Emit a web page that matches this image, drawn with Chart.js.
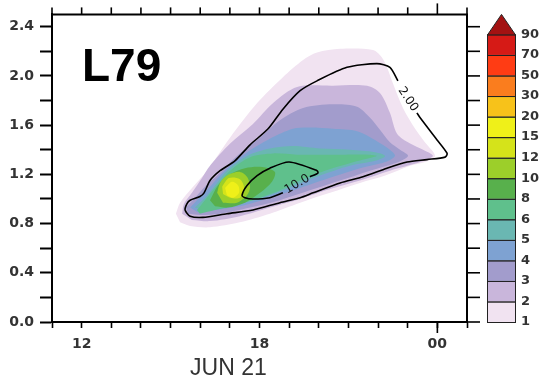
<!DOCTYPE html>
<html><head><meta charset="utf-8">
<script src="https://cdn.jsdelivr.net/npm/chart.js"></script>
<style>html,body{margin:0;padding:0;background:#fff;}canvas{display:block;}</style>
</head><body>
<canvas id="c" width="552" height="382"></canvas>
<script>
// x = hour (JUN 21; 24 = 00 of next day), y = height
const xTickLabels = {12: '12', 18: '18', 24: '00'};
const colorLevels = ['1','2','3','4','5','6','8','10','12','15','20','30','50','70','90'];
const levelColors = ['#f1e3f1','#c9b6db','#a29ccc','#7ea2d2','#6ab7b2','#5fc08c','#58b04c','#9ccf2a','#d5e31a','#eff019','#f7c21a','#fa7d1e','#ff3c14','#d61a16'];
const overColor = '#a31212';

// filled regions: value >= level (1, 2, 3, 4, 5, 6, 8, 10, 12, 15)
const region1 = [[15.18,0.88],[15.32,0.97],[15.76,1.10],[16.23,1.23],[17.01,1.50],[17.92,1.78],[18.79,1.99],[19.47,2.13],[19.94,2.19],[20.72,2.22],[21.83,2.21],[22.13,2.15],[22.30,2.07],[22.50,1.94],[22.84,1.74],[23.25,1.57],[23.58,1.46],[23.92,1.35],[23.58,1.30],[23.08,1.27],[22.24,1.19],[21.39,1.13],[20.38,1.05],[19.37,0.97],[18.35,0.88],[17.34,0.81],[16.33,0.77],[15.66,0.78],[15.32,0.81]];
const region2 = [[15.39,0.88],[15.45,0.96],[15.72,1.05],[16.06,1.17],[16.33,1.27],[17.01,1.45],[17.78,1.61],[18.46,1.78],[19.27,1.91],[20.48,1.92],[21.63,1.92],[22.07,1.86],[22.40,1.70],[22.64,1.53],[23.08,1.45],[23.52,1.40],[23.85,1.35],[23.42,1.30],[22.40,1.23],[21.39,1.15],[20.38,1.08],[19.37,1.00],[18.35,0.93],[17.34,0.86],[16.33,0.82],[15.72,0.83]];
const region3 = [[15.52,0.93],[15.82,1.01],[16.16,1.10],[16.57,1.19],[17.24,1.35],[18.02,1.50],[18.69,1.64],[19.47,1.74],[20.48,1.77],[21.29,1.75],[21.73,1.66],[22.07,1.56],[22.40,1.46],[22.74,1.40],[23.01,1.35],[22.57,1.29],[21.73,1.23],[20.72,1.15],[19.70,1.07],[18.69,0.99],[17.68,0.93],[16.67,0.88],[15.99,0.87],[15.59,0.88]];
const region4 = [[15.66,0.93],[15.89,0.99],[16.33,1.10],[16.77,1.22],[17.58,1.38],[18.35,1.49],[19.13,1.57],[19.70,1.58],[20.48,1.57],[21.29,1.55],[21.96,1.47],[22.40,1.40],[22.57,1.35],[22.24,1.30],[21.39,1.25],[20.48,1.18],[19.37,1.09],[18.35,1.01],[17.34,0.94],[16.50,0.91],[15.93,0.89]];
const region5 = [[15.82,0.93],[16.16,1.01],[16.50,1.11],[16.90,1.23],[17.58,1.35],[18.35,1.41],[19.13,1.43],[20.04,1.41],[21.05,1.40],[21.90,1.38],[22.24,1.35],[21.90,1.31],[21.05,1.27],[20.04,1.19],[19.20,1.11],[18.35,1.03],[17.51,0.97],[16.67,0.93],[16.09,0.91]];
const region6 = [[15.89,0.91],[16.16,0.99],[16.43,1.07],[17.01,1.23],[17.68,1.34],[18.46,1.37],[19.27,1.36],[20.04,1.36],[20.89,1.36],[21.70,1.36],[21.95,1.35],[21.50,1.32],[21.05,1.29],[20.21,1.23],[19.37,1.15],[18.69,1.07],[18.02,1.01],[17.34,0.96],[16.50,0.91],[15.99,0.88]];
const region7 = [[16.33,0.99],[16.60,1.11],[17.01,1.20],[17.51,1.25],[18.09,1.26],[18.52,1.22],[18.42,1.14],[18.02,1.05],[17.51,0.97],[16.94,0.93],[16.50,0.94]];
const region8 = [[16.57,1.05],[16.67,1.13],[16.90,1.19],[17.34,1.22],[17.58,1.18],[17.68,1.10],[17.58,1.03],[17.24,0.97],[16.77,0.97]];
const region9 = [[16.74,1.10],[16.97,1.17],[17.34,1.16],[17.48,1.09],[17.34,1.01],[17.01,1.01],[16.77,1.04]];
const region10 = [[16.84,1.09],[17.07,1.14],[17.28,1.11],[17.31,1.05],[17.11,1.01],[16.90,1.03]];
const regions = [region1, region2, region3, region4, region5, region6, region7, region8, region9, region10];

// contour lines (open at the label gap)
const contour2 = [[23.31,1.70],[23.42,1.66],[23.99,1.48],[24.33,1.37],[24.26,1.34],[23.65,1.32],[22.98,1.30],[22.30,1.25],[21.49,1.18],[20.72,1.13],[19.81,1.05],[19.37,1.01],[18.69,0.97],[17.78,0.91],[16.90,0.88],[16.09,0.85],[15.66,0.86],[15.49,0.91],[15.55,0.96],[15.66,0.99],[15.99,1.02],[16.13,1.05],[16.33,1.15],[16.67,1.23],[17.17,1.31],[17.68,1.44],[18.29,1.57],[18.79,1.73],[19.37,1.88],[19.94,1.96],[20.95,2.07],[21.96,2.10],[22.40,2.07],[22.67,1.96]];
const contour10 = [[19.70,1.18],[19.97,1.21],[19.94,1.23],[19.00,1.30],[18.35,1.25],[17.92,1.19],[17.58,1.11],[17.41,1.03],[17.51,1.01],[17.78,1.00],[18.35,1.01],[18.79,1.05]];
const contourLabels = [{text: '2.00', x: 23.01, y: 1.81, angle: 56}, {text: '10.0', x: 19.27, y: 1.12, angle: -31}];

const toPts = arr => arr.map(p => ({x: p[0], y: p[1]}));

const datasets = regions.map((r, i) => ({
  data: toPts(r),
  showLine: true,
  fill: 'shape',
  backgroundColor: levelColors[i],
  borderWidth: 0,
  borderColor: 'rgba(0,0,0,0)',
  pointRadius: 0,
  tension: 0.3,
  order: 100 - i
}));
[contour2, contour10].forEach(c => datasets.push({
  data: toPts(c),
  showLine: true,
  fill: false,
  borderColor: '#000',
  borderWidth: 1.6,
  pointRadius: 0,
  tension: 0.25,
  order: 0
}));

const decor = {
  id: 'decor',
  afterDatasetsDraw(chart) {
    const {ctx, scales: {x, y}} = chart;
    ctx.save();
    ctx.fillStyle = '#111';
    ctx.font = '12px "DejaVu Sans"';
    ctx.textAlign = 'center';
    ctx.textBaseline = 'middle';
    contourLabels.forEach(l => {
      ctx.save();
      ctx.translate(x.getPixelForValue(l.x), y.getPixelForValue(l.y));
      ctx.rotate(l.angle * Math.PI / 180);
      ctx.fillText(l.text, 0, 0);
      ctx.restore();
    });
    ctx.restore();
  },
  afterDraw(chart) {
    const {ctx, chartArea: a, scales: {x, y}} = chart;
    ctx.save();
    ctx.strokeStyle = '#000';
    ctx.lineWidth = 2;
    ctx.beginPath();
    ctx.moveTo(a.left, a.top); ctx.lineTo(a.right, a.top); ctx.lineTo(a.right, a.bottom);
    ctx.stroke();
    ctx.lineWidth = 1.6;
    for (let h = 11; h <= 25; h++) {
      const px = x.getPixelForValue(h);
      const len = h === 24 ? 11 : 7;
      ctx.beginPath(); ctx.moveTo(px, a.top); ctx.lineTo(px, a.top - len); ctx.stroke();
    }
    const p24 = x.getPixelForValue(24);
    ctx.beginPath(); ctx.moveTo(p24, a.bottom); ctx.lineTo(p24, a.bottom + 11); ctx.stroke();
    for (let k = 0; k <= 12; k++) {
      const py = y.getPixelForValue(k * 0.2);
      ctx.beginPath(); ctx.moveTo(a.right, py); ctx.lineTo(a.right + 13, py); ctx.stroke();
    }
    // panel label
    ctx.fillStyle = '#000';
    ctx.font = 'bold 46px "Liberation Sans", Arial, sans-serif';
    ctx.textAlign = 'left';
    ctx.textBaseline = 'alphabetic';
    ctx.fillText('L79', a.left + 30, a.top + 67);
    // date title
    ctx.fillStyle = '#333';
    ctx.font = '23px "Liberation Sans", Arial, sans-serif';
    ctx.textAlign = 'center';
    ctx.fillText('JUN 21', x.getPixelForValue(16.95), 375);
    // colour bar
    const x0 = a.right + 20, w = 28, top = a.top + 20, bot = a.bottom;
    const n = levelColors.length, h = (bot - top) / n;
    ctx.lineWidth = 1;
    for (let i = 0; i < n; i++) {
      const yb = bot - i * h;
      ctx.fillStyle = levelColors[i];
      ctx.fillRect(x0, yb - h, w, h);
      ctx.strokeStyle = '#222';
      ctx.strokeRect(x0 + 0.5, yb - h + 0.5, w, h);
    }
    ctx.beginPath();
    ctx.moveTo(x0 + 0.5, top + 0.5); ctx.lineTo(x0 + w + 0.5, top + 0.5); ctx.lineTo(x0 + w / 2 + 0.5, a.top);
    ctx.closePath();
    ctx.fillStyle = overColor; ctx.fill(); ctx.stroke();
    ctx.fillStyle = '#333';
    ctx.font = 'bold 13px "DejaVu Sans"';
    ctx.textAlign = 'left';
    ctx.textBaseline = 'middle';
    colorLevels.forEach((lab, i) => ctx.fillText(lab, x0 + w + 6, bot - i * h));
    ctx.restore();
  }
};

new Chart(document.getElementById('c'), {
  type: 'scatter',
  data: {datasets},
  plugins: [decor],
  options: {
    responsive: false,
    devicePixelRatio: 1,
    animation: false,
    events: [],
    layout: {padding: {top: 13, right: 85, left: 0, bottom: 0}},
    plugins: {legend: {display: false}, tooltip: {enabled: false}, title: {display: false}},
    scales: {
      x: {
        type: 'linear', min: 11, max: 25,
        afterFit: s => { s.height = 60; },
        ticks: {
          stepSize: 1, autoSkip: false, maxRotation: 0, padding: 8,
          color: '#333', font: {family: 'DejaVu Sans', size: 14, weight: 'bold'},
          callback: v => xTickLabels[v] || ''
        },
        grid: {drawOnChartArea: false, tickLength: 6, tickColor: '#000', tickWidth: 1.6},
        border: {color: '#000', width: 2}
      },
      y: {
        type: 'linear', min: 0, max: 2.5,
        afterFit: s => { s.width = 52; },
        ticks: {
          stepSize: 0.2, includeBounds: false, padding: 6,
          color: '#333', font: {family: 'DejaVu Sans', size: 14, weight: 'bold'},
          callback: v => (Math.round(v * 10) % 4 === 0 ? v.toFixed(1) : '')
        },
        grid: {drawOnChartArea: false, tickLength: 12, tickColor: '#000', tickWidth: 2},
        border: {color: '#000', width: 2}
      }
    }
  }
});
</script>
</body></html>
